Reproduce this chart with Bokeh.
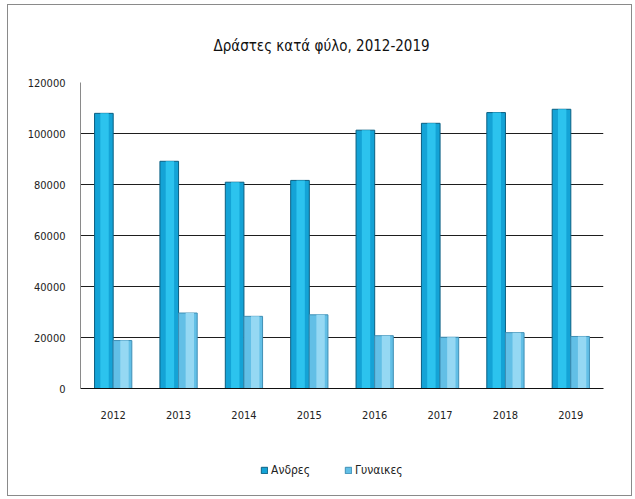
from bokeh.plotting import figure
from bokeh.layouts import column
from bokeh.models import (FactorRange, FixedTicker, NumeralTickFormatter,
                          Legend, LegendItem, ColumnDataSource)
from bokeh.transform import dodge
from bokeh.embed import file_html
from bokeh.resources import INLINE

years = ["2012", "2013", "2014", "2015", "2016", "2017", "2018", "2019"]
men = [107900, 89100, 80900, 81600, 101300, 104000, 108200, 109500]
women = [18800, 29600, 28300, 28900, 20700, 20100, 21900, 20400]
y_ticks = [0, 20000, 40000, 60000, 80000, 100000, 120000]
title_text = "Δράστες κατά φύλο, 2012-2019"
men_label = "Ανδρες"
women_label = "Γυναικες"

FONT = "DejaVu Sans Condensed"
MEN_FILL, MEN_LINE, MEN_HI = "#14a3d6", "#0a5f82", "#2cc3ee"
WOM_FILL, WOM_LINE, WOM_HI = "#62bfe6", "#3f8fb5", "#95d8f3"

src = ColumnDataSource(dict(years=years, men=men, women=women))

p = figure(x_range=FactorRange(*years), y_range=(0, 120000),
           frame_width=523, frame_height=306, output_backend="svg", toolbar_location=None,
           min_border_left=72, min_border_right=28, min_border_top=77,
           min_border_bottom=50)
p.outline_line_color = None
p.background_fill_color = "white"
p.border_fill_color = "white"

bw = 0.285
p.vbar(x=dodge("years", -bw / 2, range=p.x_range), top="men", width=bw,
       source=src, fill_color=MEN_FILL, line_color=MEN_LINE, line_width=1)
p.vbar(x=dodge("years", -bw / 2 + 0.01, range=p.x_range), top="men", width=bw * 0.45,
       source=src, fill_color=MEN_HI, line_color=None)
p.vbar(x=dodge("years", bw / 2, range=p.x_range), top="women", width=bw,
       source=src, fill_color=WOM_FILL, line_color=WOM_LINE, line_width=1)
p.vbar(x=dodge("years", bw / 2 + 0.03, range=p.x_range), top="women", width=bw * 0.45,
       source=src, fill_color=WOM_HI, line_color=None)

p.xgrid.grid_line_color = None
p.ygrid.ticker = FixedTicker(ticks=y_ticks)
p.ygrid.grid_line_color = "#1e1e1e"
p.ygrid.grid_line_width = 1

p.yaxis.ticker = FixedTicker(ticks=y_ticks)
p.yaxis.formatter = NumeralTickFormatter(format="0")
p.yaxis.axis_line_color = "#8a8a8a"
p.yaxis.major_tick_line_color = None
p.yaxis.minor_tick_line_color = None
p.yaxis.major_label_standoff = 9
p.yaxis.major_label_text_font = FONT
p.yaxis.major_label_text_font_size = "11px"
p.yaxis.major_label_text_color = "#222222"

p.xaxis.axis_line_color = "#111111"
p.xaxis.major_tick_line_color = None
p.xaxis.minor_tick_line_color = None
p.xaxis.major_label_standoff = 16
p.xaxis.major_label_text_font = FONT
p.xaxis.major_label_text_font_size = "11px"
p.xaxis.major_label_text_color = "#222222"

p.title.text = title_text
p.title.align = "left"
p.title.offset = 133
p.title.text_font = FONT
p.title.text_font_size = "15px"
p.title.text_font_style = "normal"
p.title.text_color = "#111111"
p.title.standoff = 56

# legend-only strip under the chart (its bars lie far outside its visible range)
q = figure(width=623, height=57, x_range=FactorRange(*years), y_range=(1e7, 2e7),
           output_backend="svg", toolbar_location=None,
           min_border_left=0, min_border_right=0, min_border_top=0, min_border_bottom=0)
q.axis.visible = False
q.grid.visible = False
q.outline_line_color = None
q.border_fill_color = "white"
q.background_fill_color = "white"
r_men = q.vbar(x="years", top="men", bottom=0, width=0.1, source=src,
               fill_color=MEN_FILL, line_color=MEN_LINE)
r_women = q.vbar(x="years", top="women", bottom=0, width=0.1, source=src,
                 fill_color=WOM_FILL, line_color=WOM_LINE)
legend = Legend(items=[LegendItem(label=men_label, renderers=[r_men]),
                       LegendItem(label=women_label, renderers=[r_women])],
                orientation="horizontal", location=(180, 18),
                border_line_color=None, background_fill_alpha=0,
                label_text_font=FONT, label_text_font_size="12px",
                label_text_color="#222222", glyph_width=8, glyph_height=8,
                label_height=12, spacing=34, label_standoff=3, padding=0, margin=0)
q.add_layout(legend, "center")

lay = column(p, q, spacing=0,
             styles={"border": "1px solid #8a8a8a", "margin-left": "7px", "margin-top": "4px"})

open("out.html", "w").write(file_html(lay, INLINE))
